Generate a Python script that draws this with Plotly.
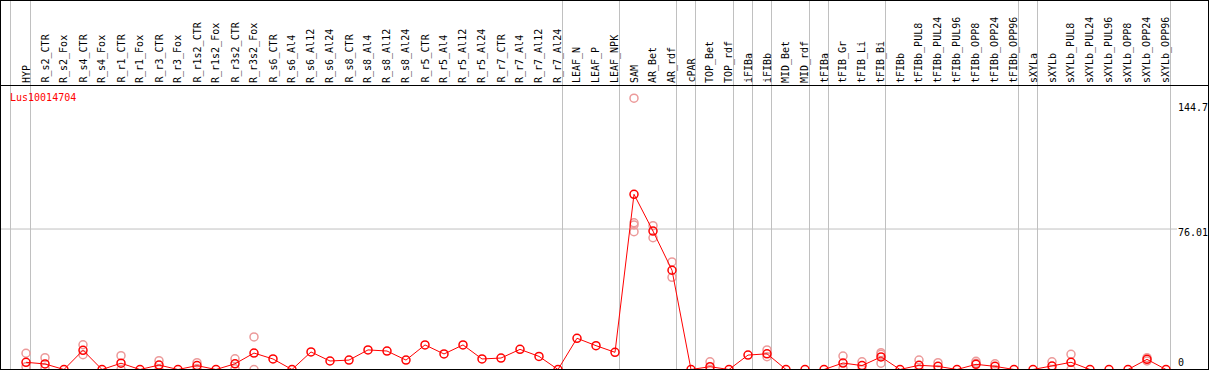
import plotly.graph_objects as go

W, H = 1209, 370

categories = ["HYP", "R_s2_CTR", "R_s2_Fox", "R_s4_CTR", "R_s4_Fox", "R_r1_CTR", "R_r1_Fox",
              "R_r3_CTR", "R_r3_Fox", "R_r1s2_CTR", "R_r1s2_Fox", "R_r3s2_CTR", "R_r3s2_Fox",
              "R_s6_CTR", "R_s6_Al4", "R_s6_Al12", "R_s6_Al24", "R_s8_CTR", "R_s8_Al4",
              "R_s8_Al12", "R_s8_Al24", "R_r5_CTR", "R_r5_Al4", "R_r5_Al12", "R_r5_Al24",
              "R_r7_CTR", "R_r7_Al4", "R_r7_Al12", "R_r7_Al24", "LEAF_N", "LEAF_P", "LEAF_NPK",
              "SAM", "AR_Bet", "AR_rdf", "cPAR", "TOP_Bet", "TOP_rdf", "iFIBa", "iFIBb",
              "MID_Bet", "MID_rdf", "tFIBa", "tFIB_Gr", "tFIB_Li", "tFIB_Bi", "tFIBb",
              "tFIBb_PUL8", "tFIBb_PUL24", "tFIBb_PUL96", "tFIBb_OPP8", "tFIBb_OPP24",
              "tFIBb_OPP96", "sXYLa", "sXYLb", "sXYLb_PUL8", "sXYLb_PUL24", "sXYLb_PUL96",
              "sXYLb_OPP8", "sXYLb_OPP24", "sXYLb_OPP96"]

mean_values = [3.9, 3.0, 0, 10.4, 0, 3.4, 0, 2.4, 0, 2.1, 0, 3.1, 8.9,
               5.7, 0, 9.5, 4.6, 5.1, 10.6, 10.0, 5.1, 13.3, 8.4, 13.3, 5.7,
               6.2, 10.9, 7.1, 0, 16.9, 12.9, 9.3,
               94.8, 74.9, 53.7, 0, 1.5, 0, 7.8, 8.5, 0, 0, 0, 3.5, 2.1, 6.8, 0,
               2.3, 1.7, 0, 2.8, 1.7, 0, 0, 1.9, 3.9, 0, 0, 0, 5.5, 0]

rep_categories = ["HYP", "HYP", "R_s2_CTR", "R_s2_CTR", "R_s4_CTR", "R_s4_CTR",
                  "R_r1_CTR", "R_r1_CTR", "R_r3_CTR", "R_r3_CTR", "R_r1s2_CTR", "R_r1s2_CTR",
                  "R_r3s2_CTR", "R_r3s2_CTR", "R_r3s2_Fox", "R_r3s2_Fox",
                  "SAM", "SAM", "SAM", "SAM", "AR_Bet", "AR_Bet", "AR_rdf", "AR_rdf",
                  "TOP_Bet", "TOP_Bet", "iFIBb", "iFIBb", "tFIB_Gr", "tFIB_Gr",
                  "tFIB_Li", "tFIB_Li", "tFIB_Bi", "tFIB_Bi", "tFIB_Bi",
                  "tFIBb_PUL8", "tFIBb_PUL8", "tFIBb_PUL24", "tFIBb_PUL24",
                  "tFIBb_OPP8", "tFIBb_OPP8", "tFIBb_OPP24", "tFIBb_OPP24",
                  "sXYLb", "sXYLb", "sXYLb_PUL8", "sXYLb_PUL8", "sXYLb_OPP24", "sXYLb_OPP24"]
rep_values = [8.8, 1.5, 6.4, 0.8, 13.4, 8.0,
              7.5, 0, 4.8, 0, 3.7, 0.6,
              5.8, 0.4, 17.6, 0,
              146.8, 79.4, 78.2, 74.6, 77.8, 71.3, 58.2, 49.9,
              4.2, 0, 10.6, 6.9, 7.3, 0.6,
              4.2, 0, 9.1, 8.2, 3.4,
              5.1, 0, 3.7, 0,
              4.4, 3.4, 3.1, 0,
              4.2, 0, 8.2, 0, 6.4, 4.6]

group_ends = ["HYP", "R_r7_Al24", "LEAF_NPK", "AR_rdf", "cPAR", "TOP_rdf", "iFIBa", "iFIBb",
              "MID_rdf", "tFIBa", "tFIB_Bi", "tFIBb_OPP96", "sXYLa", "sXYLb_OPP96"]

tick_values = [144.7, 76.01, 0]
tick_labels = ["144.7", "76.01", "0"]
gene_name = "Lus10014704"

idx = {c: i for i, c in enumerate(categories)}
FONT = "DejaVu Sans Mono"

def px_x(p):
    return p / W

def px_y(p):
    return 1 - p / H

fig = go.Figure()

fig.add_trace(go.Scatter(
    x=[idx[c] for c in rep_categories], y=rep_values, mode="markers",
    marker=dict(symbol="circle-open", size=8, color="#EC9A9A", line=dict(width=1.5, color="#EC9A9A")),
    hoverinfo="skip", showlegend=False))

fig.add_trace(go.Scatter(
    x=list(range(len(categories))), y=mean_values, mode="lines+markers",
    line=dict(color="#FF0000", width=1),
    marker=dict(symbol="circle-open", size=8, color="#FF0000", line=dict(width=1.5, color="#FF0000")),
    hoverinfo="skip", showlegend=False))

# axes mapping: x_i -> 26 + 19 i px ; y value v -> 369.5 - 1.848 v px
x0 = -26 / 19
x1 = x0 + W / 19
ytop_px = 86
y_lo = (369.5 - 370) / 1.848
y_hi = (369.5 - ytop_px) / 1.848

fig.update_layout(
    width=W, height=H, margin=dict(l=0, r=0, t=0, b=0),
    paper_bgcolor="white", plot_bgcolor="white",
    xaxis=dict(range=[x0, x1], domain=[0, 1], visible=False, fixedrange=True),
    yaxis=dict(range=[y_lo, y_hi], domain=[0, px_y(ytop_px)], visible=False, fixedrange=True),
    showlegend=False,
)

shapes = []
shapes.append(dict(type="line", xref="paper", yref="y", x0=0, x1=px_x(1177), y0=tick_values[1], y1=tick_values[1],
                   line=dict(color="#C0C0C0", width=1), layer="below"))
sep_x = [-0.816] + [idx[c] + 0.237 for c in group_ends]
for sx in sep_x:
    shapes.append(dict(type="line", xref="x", yref="paper", x0=sx, x1=sx, y0=px_y(369), y1=1,
                       line=dict(color="#C0C0C0", width=1), layer="below"))
frame = [(0.5, 0.5, 1208.5, 0.5), (0.5, 85.5, 1208.5, 85.5), (0.5, 369.5, 1208.5, 369.5),
         (0.5, 0, 0.5, 370), (1208.5, 0, 1208.5, 370)]
for a, b, c, d in frame:
    shapes.append(dict(type="line", xref="paper", yref="paper", x0=px_x(a), y0=px_y(b), x1=px_x(c), y1=px_y(d),
                       line=dict(color="black", width=1), layer="above"))
fig.update_layout(shapes=shapes)

annotations = []
for i, c in enumerate(categories):
    annotations.append(dict(x=i, xref="x", y=px_y(84), yref="paper", text=c, textangle=-90,
                            showarrow=False, xanchor="center", yanchor="bottom",
                            font=dict(family=FONT, size=10, color="black"), borderpad=0))
annotations.append(dict(x=px_x(9), xref="paper", y=px_y(97.5), yref="paper", text=gene_name,
                        showarrow=False, xanchor="left", yanchor="middle",
                        font=dict(family=FONT, size=10, color="#FF0000"), borderpad=0))
shifts = [-5.6, -3.3, 7.2]
for v, t, s in zip(tick_values, tick_labels, shifts):
    annotations.append(dict(x=px_x(1177), xref="paper", y=v, yref="y", yshift=s, text=t,
                            showarrow=False, xanchor="left", yanchor="middle",
                            font=dict(family=FONT, size=10, color="black"), borderpad=0))
fig.update_layout(annotations=annotations)

fig.write_html("out.html", config={"displayModeBar": False},
               post_script="document.body.style.margin='0';document.body.style.overflow='hidden';")
